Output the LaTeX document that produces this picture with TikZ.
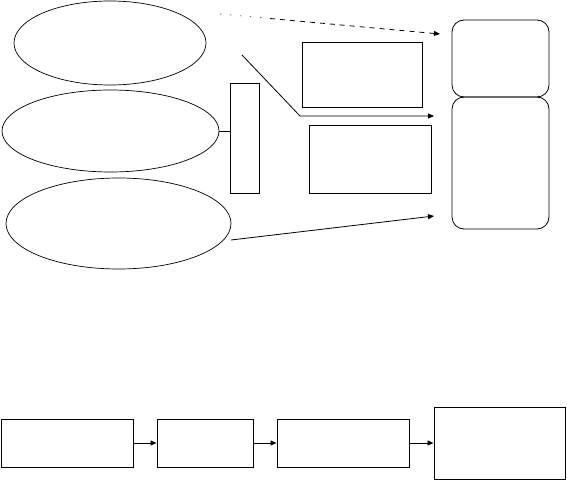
\documentclass[tikz,border=0pt]{standalone}
\usetikzlibrary{shapes.geometric,arrows.meta}
\begin{document}
\begin{tikzpicture}[x=1pt,y=-1pt,
  line/.style={line width=0.8pt},
  oval/.style={ellipse,draw,line width=0.7pt,inner sep=0pt},
  box/.style={rectangle,draw,line width=1pt,inner sep=0pt},
  rbox/.style={rectangle,draw,line width=0.8pt,rounded corners=12pt,inner sep=0pt},
  arr/.style={line width=0.8pt,-{Triangle[length=6pt,width=5pt]}}]
\useasboundingbox (0,0) rectangle (567,481);
% ellipses
\node[oval,minimum width=192pt,minimum height=84pt] (e1) at (110,43) {};
\node[oval,minimum width=217pt,minimum height=82pt] (e2) at (110.5,131) {};
\node[oval,minimum width=225pt,minimum height=91pt] (e3) at (118.5,223.5) {};
% vertical rect
\node[box,minimum width=29pt,minimum height=109pt] (vr) at (244.5,138.5) {};
% middle rects
\node[box,minimum width=120pt,minimum height=65pt] (ra) at (362,75.5) {};
\node[box,minimum width=122pt,minimum height=67pt] (rb) at (370,159.5) {};
% rounded rects
\node[rbox,minimum width=97pt,minimum height=77pt] (r1) at (500.5,58.5) {};
\node[rbox,minimum width=97pt,minimum height=132pt] (r2) at (500.5,163) {};
% connectors
\draw[line] (e2.east) -- (vr.west |- e2.east);
\coordinate (d0) at (220,14);
\coordinate (dm) at (270,18.5);
\coordinate (d1) at (440,34);
\draw[line width=0.5pt,dash pattern=on 1.5pt off 8.5pt] (d0) -- (dm);
\draw[arr,dash pattern=on 5pt off 5pt] (dm) -- (d1);
\coordinate (s0) at (242,55);
\coordinate (s1) at (300,116);
\coordinate (s2) at (434,116);
\draw[arr] (s0) -- (s1) -- (s2);
\coordinate (t0) at (231,240);
\coordinate (t1) at (434,216);
\draw[arr] (t0) -- (t1);
% bottom row
\node[box,minimum width=132pt,minimum height=48pt] (b1) at (67,443) {};
\node[box,minimum width=96pt,minimum height=48pt] (b2) at (205,443) {};
\node[box,minimum width=132pt,minimum height=48pt] (b3) at (343,443) {};
\node[box,minimum width=131pt,minimum height=72pt] (b4) at (499.5,443) {};
\draw[arr] (b1.east) -- (b2.west);
\draw[arr] (b2.east) -- (b3.west);
\draw[arr] (b3.east) -- (b4.west);
\end{tikzpicture}
\end{document}
